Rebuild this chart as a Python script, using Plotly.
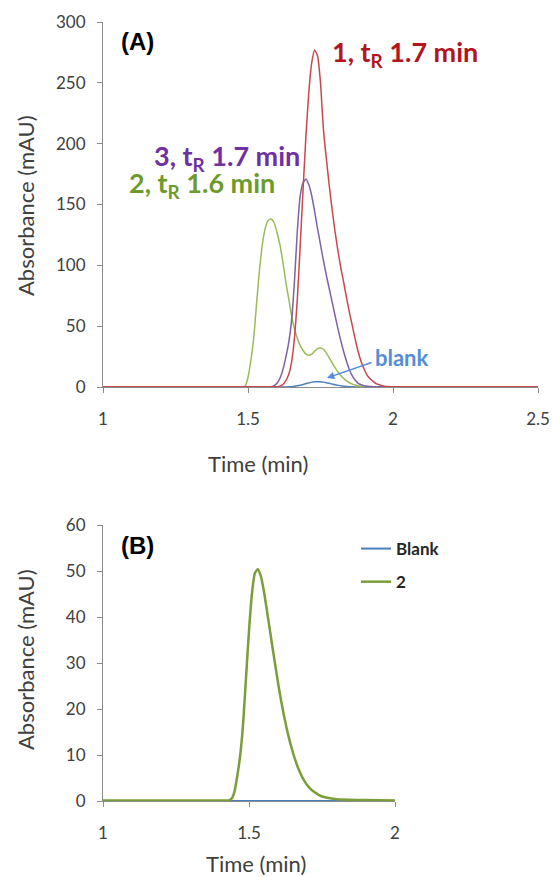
import plotly.graph_objects as go

# ---------------- Panel A data ----------------
t_a = [1.00, 1.47, 1.48, 1.49, 1.50, 1.51, 1.52, 1.53, 1.54, 1.55, 1.56, 1.57, 1.58, 1.59,
       1.60, 1.61, 1.62, 1.63, 1.64, 1.65, 1.66, 1.67, 1.68, 1.69,
       1.70, 1.71, 1.72, 1.73, 1.74, 1.75, 1.76, 1.77, 1.78, 1.79,
       1.80, 1.81, 1.82, 1.83, 1.84, 1.85, 1.86, 1.87, 1.88, 1.89,
       1.90, 1.91, 1.92, 1.93, 1.94, 1.95, 1.96, 1.97, 1.98, 1.99, 2.00, 2.50]

# compound 1 (red)
abs_1 = [0.2, 0.2, 0.2, 0.2, 0.2, 0.2, 0.2, 0.2, 0.2, 0.2, 0.2, 0.2, 0.2, 0.2,
         0.3, 0.6, 2, 5, 10, 20, 40, 72, 116, 163,
         207, 243, 267, 277, 272, 250, 212, 188, 166, 146,
         128, 112, 98, 86, 73, 61, 50, 39, 29, 21,
         15, 10, 7, 5, 3, 2, 1.2, 0.7, 0.4, 0.3, 0.2, 0.2]

# compound 3 (purple)
abs_3 = [0.2, 0.2, 0.2, 0.2, 0.2, 0.2, 0.2, 0.2, 0.2, 0.2, 0.2, 0.2, 0.3, 1,
         3, 7, 14, 24, 36, 54, 86, 128, 157, 168,
         171, 166, 157, 144, 130, 117, 104, 92, 81, 70,
         59, 48, 38, 29, 21, 14, 9, 5.5, 3, 1.8,
         1, 0.6, 0.4, 0.3, 0.2, 0.2, 0.2, 0.2, 0.2, 0.2, 0.2, 0.2]

# compound 2 (green)
abs_2 = [0.2, 0.2, 0.2, 0.6, 8, 22, 41, 70, 97, 118, 131, 137, 138, 135,
         127, 117, 103, 87, 73, 59, 48, 40, 34, 30,
         27, 26, 27, 29.5, 31.5, 32, 31, 28, 24, 20,
         16, 12.5, 9.5, 7, 5, 3.5, 2.4, 1.6, 1.0, 0.7,
         0.5, 0.4, 0.3, 0.3, 0.2, 0.2, 0.2, 0.2, 0.2, 0.2, 0.2, 0.2]

# blank (blue)
abs_blank_a = [0.1, 0.1, 0.1, 0.1, 0.1, 0.1, 0.1, 0.1, 0.1, 0.1, 0.1, 0.1, 0.1, 0.1,
               0.1, 0.1, 0.1, 0.1, 0.2, 0.3, 0.6, 1.0, 1.5, 2.1,
               2.8, 3.4, 4.0, 4.3, 4.4, 4.3, 4.0, 3.5, 3.0, 2.4,
               1.8, 1.4, 1.0, 0.7, 0.5, 0.3, 0.2, 0.1, 0.1, 0.1,
               0.1, 0.1, 0.1, 0.1, 0.1, 0.1, 0.1, 0.1, 0.1, 0.1, 0.1, 0.1]

# ---------------- Panel B data ----------------
t_b = [1.00, 1.40, 1.42, 1.43, 1.44, 1.45, 1.46, 1.47, 1.48, 1.49,
       1.50, 1.51, 1.52, 1.53, 1.54, 1.55, 1.56, 1.57, 1.58, 1.59,
       1.60, 1.61, 1.62, 1.63, 1.64, 1.65, 1.66, 1.67, 1.68, 1.69,
       1.70, 1.71, 1.72, 1.74, 1.76, 1.80, 1.90, 2.00]
abs_2_b = [0.1, 0.1, 0.1, 0.1, 0.5, 2, 5.5, 10, 17, 27,
           37, 45, 49.5, 50.4, 49, 46, 42, 37.8, 33.6, 29.5,
           25.5, 21.8, 18.5, 15.5, 12.9, 10.6, 8.6, 6.9, 5.5, 4.3,
           3.4, 2.7, 2.1, 1.3, 0.8, 0.4, 0.2, 0.1]
abs_blank_b = [0.0] * len(t_b)

y_ticks_a = [0, 50, 100, 150, 200, 250, 300]
x_ticks_a = [1, 1.5, 2, 2.5]
y_ticks_b = [0, 10, 20, 30, 40, 50, 60]
x_ticks_b = [1, 1.5, 2]

RED = "#C8494C"
PURPLE = "#7F62A6"
GREEN = "#9BBB59"
BLUE = "#4F81BD"

W, H = 552, 877
def px_x(p):
    return p / W
def px_y(p):
    return 1 - p / H

fig = go.Figure()

line_kw = dict(shape="spline", smoothing=0.5)
fig.add_trace(go.Scatter(x=t_a, y=abs_blank_a, mode="lines", line=dict(color=BLUE, width=1.5, **line_kw),
                         xaxis="x", yaxis="y", showlegend=False))
fig.add_trace(go.Scatter(x=t_a, y=abs_2, mode="lines", line=dict(color=GREEN, width=1.5, **line_kw),
                         xaxis="x", yaxis="y", showlegend=False))
fig.add_trace(go.Scatter(x=t_a, y=abs_3, mode="lines", line=dict(color=PURPLE, width=1.5, **line_kw),
                         xaxis="x", yaxis="y", showlegend=False))
fig.add_trace(go.Scatter(x=t_a, y=abs_1, mode="lines", line=dict(color=RED, width=1.5, **line_kw),
                         xaxis="x", yaxis="y", showlegend=False))

fig.add_trace(go.Scatter(x=t_b, y=abs_blank_b, mode="lines", name="Blank", legendgroup="g1",
                         line=dict(color="#4A7EBB", width=2, **line_kw), xaxis="x2", yaxis="y2"))
fig.add_trace(go.Scatter(x=t_b, y=abs_2_b, mode="lines", name="2", legendgroup="g2",
                         line=dict(color="#7A9E3A", width=2.5, **line_kw), xaxis="x2", yaxis="y2"))

axis_common = dict(showline=True, linecolor="#8C8C8C", linewidth=1, ticks="outside", tickcolor="#8C8C8C",
                   ticklen=5, showgrid=False, zeroline=False, automargin=False,
                   tickfont=dict(family="Lato", size=17, color="#404040"))

fig.update_layout(
    width=W, height=H, margin=dict(l=0, r=0, t=0, b=0, autoexpand=False),
    paper_bgcolor="white", plot_bgcolor="white",
    xaxis=dict(domain=[px_x(103), px_x(538)], range=[1, 2.5], tickvals=x_ticks_a, anchor="y",
               ticklabelstandoff=12, **axis_common),
    yaxis=dict(domain=[px_y(387), px_y(22)], range=[0, 300], tickvals=y_ticks_a, anchor="x",
               ticklabelstandoff=8, **axis_common),
    xaxis2=dict(domain=[px_x(103), px_x(395)], range=[1, 2], tickvals=x_ticks_b, anchor="y2",
                ticklabelstandoff=12, **axis_common),
    yaxis2=dict(domain=[px_y(801), px_y(525)], range=[0, 60], tickvals=y_ticks_b, anchor="x2",
                ticklabelstandoff=8, **axis_common),
    legend=dict(x=px_x(356), y=px_y(531), xanchor="left", yanchor="top",
                font=dict(family="Lato", size=17, color="#262626", weight="bold"),
                traceorder="grouped", tracegroupgap=8, bgcolor="rgba(0,0,0,0)"),
    showlegend=True,
)

def label(text, x, y, font, angle=0):
    return dict(text=text, xref="paper", yref="paper", x=px_x(x), y=px_y(y), xanchor="center",
                yanchor="middle", textangle=angle, showarrow=False, font=font)

title_font = dict(family="Lato", size=22, color="#404040")
lab_font = dict(family="Lato", size=27)
ann = [
    label("Absorbance (mAU)", 25, 206, title_font, -90),
    label("Time (min)", 258, 463, title_font),
    label("Absorbance (mAU)", 25, 660, title_font, -90),
    label("Time (min)", 256, 863, title_font),
    label("<b>(A)</b>", 137, 42, dict(family="Liberation Sans", size=24, color="black")),
    label("<b>(B)</b>", 137, 545, dict(family="Liberation Sans", size=24, color="black")),
    label("<b>1, t<sub>R</sub> 1.7 min</b>", 405, 53, dict(color="#B2151E", **lab_font)),
    label("<b>3, t<sub>R</sub> 1.7 min</b>", 227, 157, dict(color="#7030A0", **lab_font)),
    label("<b>2, t<sub>R</sub> 1.6 min</b>", 202, 184, dict(color="#6E9A2C", **lab_font)),
    label("<b>blank</b>", 402, 357, dict(family="Lato", size=22, color="#558ED5")),
    dict(text="", x=1.772, y=7.4, xref="x", yref="y", ax=1.931, ay=20.6, axref="x", ayref="y",
         showarrow=True, arrowhead=2, arrowsize=1, arrowwidth=1.5, arrowcolor="#558ED5"),
]
fig.update_layout(annotations=ann)

fig.write_html("out.html", config={"displayModeBar": False},
               post_script="document.body.style.margin='0';")
